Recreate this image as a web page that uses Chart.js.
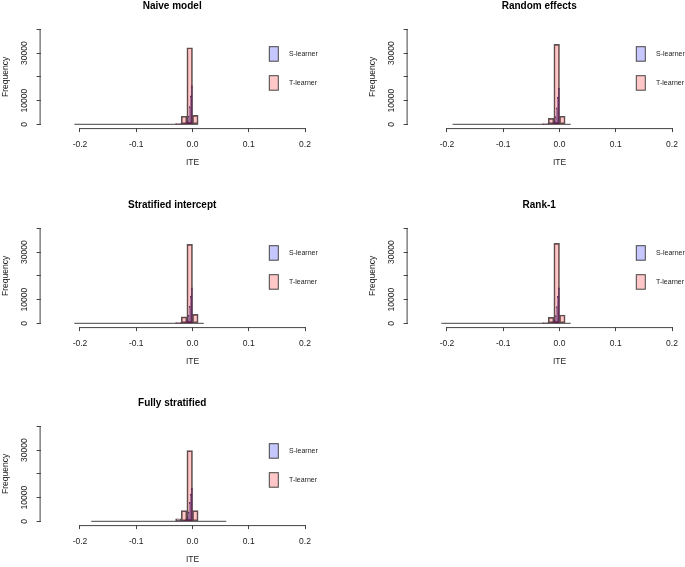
<!DOCTYPE html>
<html><head><meta charset="utf-8">
<script src="https://cdn.jsdelivr.net/npm/chart.js@4.4.1/dist/chart.umd.min.js"></script>
<style>
html,body{margin:0;padding:0;background:#fff;width:685px;height:567px;overflow:hidden;position:relative}
canvas{position:absolute}
</style></head><body>
<canvas id="c0" width="385" height="199" style="left:0px;top:0px"></canvas>
<canvas id="c1" width="385" height="199" style="left:367px;top:0px"></canvas>
<canvas id="c2" width="385" height="199" style="left:0px;top:199px"></canvas>
<canvas id="c3" width="385" height="199" style="left:367px;top:199px"></canvas>
<canvas id="c4" width="385" height="199" style="left:0px;top:397px"></canvas>
<script>
// ---- data ----
const panelTitles = ['Naive model', 'Random effects', 'Stratified intercept', 'Rank-1', 'Fully stratified'];
const seriesNames = ['S-learner', 'T-learner'];
const xTicks = [-0.2, -0.1, 0, 0.1, 0.2];
const xTickLabels = ['-0.2', '-0.1', '0.0', '0.1', '0.2'];
const yTicks = [0, 10000, 20000, 30000, 40000];
const yTickLabels = ['0', '10000', '', '30000', ''];

// T-learner histogram: bins of width 0.01, left edges
const tBinWidth = 0.01;
const tBinLefts = [-0.03, -0.02, -0.01, 0.00];
const tNaive   = [300, 3400, 32300, 3800];
const tRandom  = [250, 2500, 33750, 3400];
const tStrat   = [300, 2700, 33300, 3800];
const tRank1   = [200, 2500, 33700, 3500];
const tFully   = [1000, 4500, 29800, 4500];
// range of T-learner breaks (zero-count bins drawn as baseline)
const tRangeNaive  = [-0.21, 0.01];
const tRangeRandom = [-0.19, 0.02];
const tRangeStrat  = [-0.21, 0.02];
const tRangeRank1  = [-0.21, 0.02];
const tRangeFully  = [-0.18, 0.06];

// S-learner histogram: bins of width 0.002, left edges
const sBinWidth = 0.002;
const sBinLefts = [-0.030, -0.028, -0.026, -0.024, -0.022, -0.020, -0.018, -0.016, -0.014, -0.012, -0.010, -0.008, -0.006, -0.004, -0.002];
const sNaive  = [10, 15, 25, 40, 60, 100, 150, 250, 400, 700, 1500, 3500, 7500, 12000, 16200];
const sRandom = [5, 10, 20, 30, 50, 80, 120, 200, 350, 650, 1400, 3300, 7000, 11500, 15200];
const sStrat  = [10, 15, 25, 40, 60, 90, 140, 230, 380, 680, 1450, 3400, 7200, 11500, 15000];
const sRank1  = [5, 10, 20, 30, 50, 80, 130, 220, 370, 660, 1400, 3300, 7100, 11400, 15000];
const sFully  = [20, 30, 40, 60, 90, 130, 200, 300, 500, 900, 1800, 4000, 8000, 11500, 14000];

const tCounts = [tNaive, tRandom, tStrat, tRank1, tFully];
const sCounts = [sNaive, sRandom, sStrat, sRank1, sFully];
const tRanges = [tRangeNaive, tRangeRandom, tRangeStrat, tRangeRank1, tRangeFully];

// ---- styles ----
Chart.defaults.font.family = '"Liberation Sans", Arial, sans-serif';
Chart.defaults.color = '#222';
const X_MIN = -0.27, X_MAX = 0.27, Y_MIN = -1600, Y_MAX = 41600;
const sFill = 'rgba(0,0,255,0.22)';
const tFill = 'rgba(255,0,0,0.22)';
const axisColor = '#444';

const rAxes = {
  id: 'rAxes',
  afterDraw(chart) {
    const {ctx, chartArea: a, scales: {x, y}} = chart;
    ctx.save();
    ctx.strokeStyle = axisColor; ctx.lineWidth = 1;
    ctx.beginPath();
    ctx.moveTo(x.getPixelForValue(xTicks[0]), a.bottom + 0.5);
    ctx.lineTo(x.getPixelForValue(xTicks[xTicks.length - 1]), a.bottom + 0.5);
    ctx.moveTo(a.left - 0.5, y.getPixelForValue(yTicks[0]));
    ctx.lineTo(a.left - 0.5, y.getPixelForValue(yTicks[yTicks.length - 1]));
    ctx.stroke();
    ctx.restore();
  }
};

const rLegend = {
  id: 'rLegend',
  afterDraw(chart) {
    const {ctx, chartArea: a} = chart;
    const bars = chart.data.datasets.filter(d => d.type === 'bar');
    ctx.save();
    bars.forEach((d, i) => {
      const bx = a.left + 228.7, by = a.top + 21 + i * 29, bw = 9, bh = 14.5;
      ctx.fillStyle = '#fff'; ctx.fillRect(bx, by, bw, bh);
      ctx.fillStyle = d.legendFill; ctx.fillRect(bx, by, bw, bh);
      ctx.strokeStyle = '#444'; ctx.lineWidth = 1; ctx.strokeRect(bx, by, bw, bh);
      ctx.fillStyle = '#222';
      ctx.font = '7px "Liberation Sans", Arial, sans-serif';
      ctx.textAlign = 'left'; ctx.textBaseline = 'middle';
      ctx.fillText(d.label, a.left + 248.4, by + bh / 2);
    });
    ctx.restore();
  }
};

function makePanel(i) {
  const tData = tBinLefts.map((l, k) => ({x: l + tBinWidth / 2, y: tCounts[i][k]}));
  const sData = sBinLefts.map((l, k) => ({x: l + sBinWidth / 2, y: sCounts[i][k]}));
  const base = tRanges[i].map(v => ({x: v, y: 0}));
  const xCommon = {
    type: 'linear', min: X_MIN, max: X_MAX, offset: false,
  };
  new Chart(document.getElementById('c' + i), {
    type: 'bar',
    data: {
      datasets: [
        {type: 'bar', label: seriesNames[0], data: sData, xAxisID: 'xs',
         backgroundColor: sFill, legendFill: sFill, borderColor: 'rgba(100,35,62,0.92)', borderWidth: 1,
         borderSkipped: false, grouped: false, barPercentage: 1, categoryPercentage: 1},
        {type: 'bar', label: seriesNames[1], data: tData, xAxisID: 'x',
         backgroundColor: tFill, legendFill: tFill, borderColor: '#555', borderWidth: 1,
         borderSkipped: false, grouped: false, barPercentage: 1, categoryPercentage: 1},
        {type: 'line', label: 'baseline', data: base, xAxisID: 'x',
         borderColor: '#444', borderWidth: 1, pointRadius: 0, fill: false}
      ]
    },
    options: {
      responsive: false, animation: false, devicePixelRatio: 1, events: [],
      layout: {padding: {left: 0, right: 40.6, top: 0, bottom: 0}},
      plugins: {
        legend: {display: false}, tooltip: {enabled: false},
        title: {display: true, text: panelTitles[i], color: '#000',
                font: {size: 10, weight: 'bold'}, padding: {top: 0, bottom: 13.7}}
      },
      scales: {
        x: Object.assign({}, xCommon, {
          position: 'bottom',
          afterBuildTicks: s => { s.ticks = xTicks.map(v => ({value: v})); },
          afterFit: s => { s.height = 70.9; },
          ticks: {autoSkip: false, maxRotation: 0, minRotation: 0, padding: 7.1, font: {size: 8.5},
                  callback: (v) => xTickLabels[xTicks.indexOf(v)]},
          grid: {display: true, drawOnChartArea: false, drawTicks: true, tickLength: 4, color: axisColor, offset: false},
          border: {display: false},
          title: {display: true, text: 'ITE', font: {size: 8.5}, color: '#222', padding: {top: 0, bottom: 30.9}}
        }),
        xs: Object.assign({}, xCommon, {display: false, grid: {offset: false}}),
        y: {
          type: 'linear', position: 'left', min: Y_MIN, max: Y_MAX,
          afterBuildTicks: s => { s.ticks = yTicks.map(v => ({value: v})); },
          afterFit: s => { s.width = 40.6; },
          ticks: {autoSkip: false, minRotation: 90, maxRotation: 90, crossAlign: 'center', padding: 0,
                  font: {size: 8.5}, callback: (v) => yTickLabels[yTicks.indexOf(v)]},
          grid: {display: true, drawOnChartArea: false, drawTicks: true, tickLength: 4, color: axisColor},
          border: {display: false},
          title: {display: true, text: 'Frequency', font: {size: 8.5}, color: '#222', padding: {top: 0.4, bottom: 0}}
        }
      }
    },
    plugins: [rAxes, rLegend]
  });
}
for (let i = 0; i < 5; i++) makePanel(i);
</script>
</body></html>
